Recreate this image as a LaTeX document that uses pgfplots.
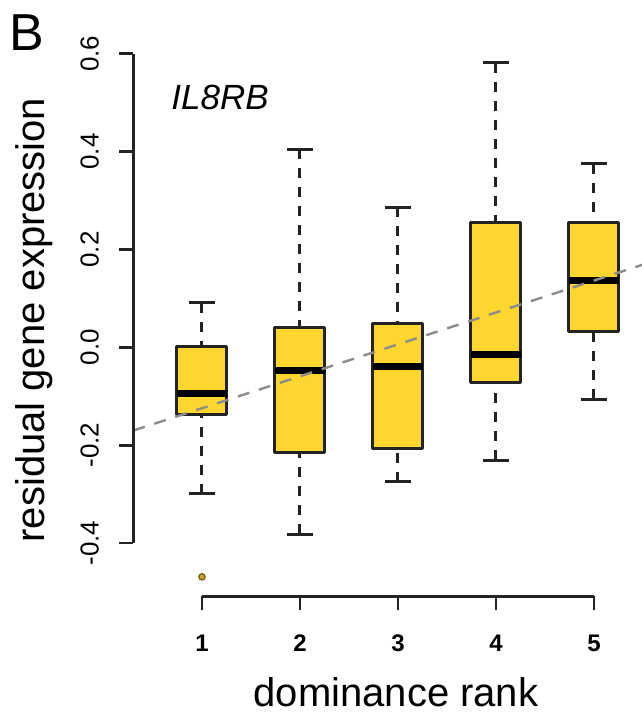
\documentclass[border=0pt]{standalone}
\usepackage{fontspec}
\setmainfont{Liberation Sans}
\usepackage{pgfplots}
\pgfplotsset{compat=1.18}
\usepgfplotslibrary{statistics}

\definecolor{boxfill}{RGB}{253,214,48}
\definecolor{outfill}{RGB}{201,162,39}
\definecolor{linegray}{RGB}{140,140,140}
\definecolor{ink}{RGB}{35,35,35}

\tikzset{
  whisk/.style={line width=1.5pt, ink, dash pattern=on 5pt off 4.5pt},
  whiskcap/.style={line width=1.5pt, ink, solid},
}

\begin{document}
\begin{tikzpicture}
\begin{axis}[
    x=49pt, y=244.7pt,
    xmin=0.3, xmax=5.49,
    ymin=-0.509, ymax=0.7097,
    axis line style={draw=none},
    clip mode=individual,
    tick pos=left,
    tick align=outside,
    major tick length=7pt,
    tick style={line width=1.4pt, ink},
    xtick={1,2,3,4,5},
    xticklabels={1,2,3,4,5},
    ytick={-0.4,-0.2,0,0.2,0.4,0.6},
    yticklabels={-0.4,-0.2,0.0,0.2,0.4,0.6},
    xticklabel style={font=\fontsize{12}{12}\selectfont\bfseries, inner sep=0pt, anchor=north},
    yticklabel style={font=\fontsize{13}{13}\selectfont, rotate=90, anchor=south, inner sep=0pt},
    xticklabel shift=12pt,
    yticklabel shift=10pt,
    boxplot/draw direction=y,
    boxplot/box extend=0.51,
    boxplot/whisker extend=0.26,
    boxplot/every box/.style={draw=ink, fill=boxfill, line width=1.5pt, line join=round},
    boxplot/every median/.style={draw=black, line width=3.6pt},
    boxplot/draw/lower whisker/.code={%
      \draw[whisk] (boxplot cs:\pgfplotsboxplotvalue{lower whisker}) -- (boxplot cs:\pgfplotsboxplotvalue{lower quartile});
      \draw[whiskcap] (boxplot whisker cs:\pgfplotsboxplotvalue{lower whisker},0) -- (boxplot whisker cs:\pgfplotsboxplotvalue{lower whisker},1);
    },
    boxplot/draw/upper whisker/.code={%
      \draw[whisk] (boxplot cs:\pgfplotsboxplotvalue{upper whisker}) -- (boxplot cs:\pgfplotsboxplotvalue{upper quartile});
      \draw[whiskcap] (boxplot whisker cs:\pgfplotsboxplotvalue{upper whisker},0) -- (boxplot whisker cs:\pgfplotsboxplotvalue{upper whisker},1);
    },
]
% dominance rank 1 (one low outlier)
\addplot[boxplot prepared={draw position=1, lower whisker=-0.299, lower quartile=-0.137,
    median=-0.095, upper quartile=0.002, upper whisker=0.091},
    mark=*, mark size=1.6pt, mark options={fill=outfill, draw=outfill!55!black, line width=0.6pt}]
  coordinates {(0,-0.469)};
\addplot[boxplot prepared={draw position=2, lower whisker=-0.382, lower quartile=-0.215,
    median=-0.048, upper quartile=0.041, upper whisker=0.405}] coordinates {};
\addplot[boxplot prepared={draw position=3, lower whisker=-0.275, lower quartile=-0.206,
    median=-0.040, upper quartile=0.049, upper whisker=0.286}] coordinates {};
\addplot[boxplot prepared={draw position=4, lower whisker=-0.231, lower quartile=-0.071,
    median=-0.014, upper quartile=0.255, upper whisker=0.581}] coordinates {};
\addplot[boxplot prepared={draw position=5, lower whisker=-0.106, lower quartile=0.033,
    median=0.136, upper quartile=0.255, upper whisker=0.375}] coordinates {};

% fitted trend
\addplot[linegray, line width=1.2pt, dash pattern=on 6pt off 5pt] coordinates {(0.3,-0.1701) (5.49,0.1683)};

% R-style axis lines spanning the ticks only
\draw[line width=1.4pt, ink] (axis cs:0.3,-0.4) -- (axis cs:0.3,0.6);
\draw[line width=1.4pt, ink] (axis cs:1,-0.509) -- (axis cs:5,-0.509);

\node[anchor=base, inner sep=0pt, font=\fontsize{20}{20}\selectfont] at (axis cs:2.98,-0.733) {dominance rank};
\node[rotate=90, anchor=base, inner sep=0pt, font=\fontsize{20}{20}\selectfont] at (axis cs:-0.612,0.0558) {residual gene expression};
\node[anchor=base west, inner sep=0pt, font=\fontsize{26}{26}\selectfont] at (axis cs:-0.969,0.6075) {B};
\node[anchor=base west, inner sep=0pt, font=\fontsize{17.5}{17.5}\selectfont\itshape] at (axis cs:0.684,0.4863) {IL8RB};

\coordinate (bbl) at (axis cs:-1.0612,-0.7493);
\coordinate (btr) at (axis cs:5.4898,0.7097);
\end{axis}
\pgfresetboundingbox
\path[use as bounding box] (bbl) rectangle (btr);
\end{tikzpicture}
\end{document}
